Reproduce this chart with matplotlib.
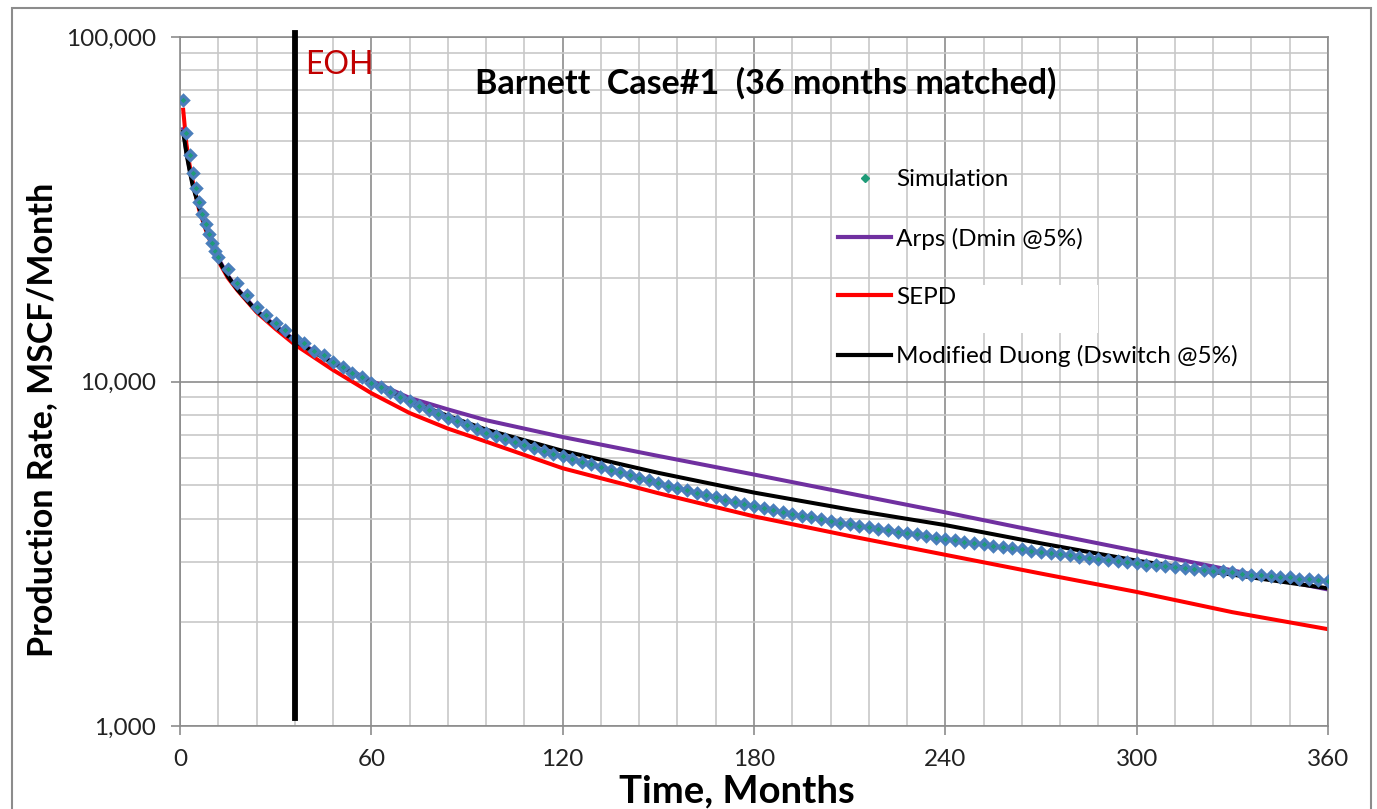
import matplotlib
matplotlib.use('Agg')
import matplotlib.pyplot as plt
from matplotlib.ticker import FixedLocator, LogLocator, FuncFormatter, NullFormatter
from matplotlib.lines import Line2D
from matplotlib.patches import Rectangle

plt.rcParams['font.family'] = ['Lato', 'DejaVu Sans']

# simulated monthly production (MSCF/month): monthly for year 1, then every 3 months
months_sim = list(range(1, 13)) + list(range(15, 361, 3))
rate_sim = [65600, 52600, 45300, 40300, 36400, 33300, 30700, 28600, 26800, 25300, 24000, 23000,
            21200, 19300, 17800, 16500, 15600, 14800, 14100, 13400, 12900, 12300, 11900, 11400,
            11000, 10600, 10300, 9930,
            9620, 9310, 9020, 8750, 8510, 8280, 8050, 7850, 7660, 7460, 7280, 7100, 6950, 6810,
            6670, 6530, 6410, 6300, 6180, 6070,
            5960, 5850, 5750, 5650, 5550, 5450, 5350, 5260, 5160, 5070, 4990, 4910, 4830, 4760,
            4690, 4610, 4540, 4470, 4410, 4340,
            4290, 4240, 4180, 4130, 4080, 4040, 3990, 3940, 3890, 3850, 3810, 3780, 3740, 3700,
            3660, 3630, 3600, 3560, 3520, 3490,
            3460, 3430, 3400, 3370, 3340, 3310, 3280, 3260, 3230, 3200, 3180, 3150, 3130, 3100,
            3080, 3060, 3030, 3010, 2990, 2970,
            2940, 2930, 2910, 2890, 2870, 2860, 2840, 2820, 2810, 2790, 2770, 2750, 2740, 2720,
            2710, 2700, 2680, 2670, 2650, 2640]

# decline-curve fits
months_fit = [1, 2, 3, 4, 6, 8, 10, 12, 15, 18, 24, 30, 36, 48, 60, 72, 84, 96, 120,
              150, 180, 210, 240, 270, 300, 330, 360]
rate_arps = [54000, 46500, 41500, 37500, 32300, 28300, 25200, 22800, 20300, 18600, 16100,
             14500, 13200, 11400, 10050, 8960, 8300, 7720, 6900,
             6080, 5370, 4730, 4170, 3660, 3220, 2830, 2490]
rate_sepd = [61500, 49000, 42500, 38000, 31500, 27700, 24800, 22400, 20000, 18400, 15900,
             14200, 12800, 10800, 9250, 8100, 7300, 6690, 5600,
             4740, 4060, 3560, 3140, 2770, 2450, 2140, 1910]
rate_duong = [53000, 46000, 41000, 37000, 32000, 28000, 25000, 22600, 20200, 18500, 16000,
              14400, 13100, 11300, 9950, 8780, 7950, 7250, 6290,
              5430, 4760, 4250, 3830, 3390, 3020, 2750, 2510]

eoh_month = 36

W, H = 1377, 809
fig = plt.figure(figsize=(W / 100, H / 100), dpi=100)
ax = fig.add_axes([180 / W, 1 - 726 / H, 1148 / W, 689 / H])

ax.set_yscale('log')
ax.set_xlim(0, 360)
ax.set_ylim(1000, 100000)
ax.set_xticks(range(0, 361, 60))
ax.set_xticks(range(0, 361, 12), minor=True)
ax.yaxis.set_major_locator(FixedLocator([1000, 10000, 100000]))
ax.yaxis.set_minor_locator(LogLocator(base=10, subs=range(2, 10)))
ax.yaxis.set_major_formatter(FuncFormatter(lambda v, p: f'{v:,.0f}'))
ax.yaxis.set_minor_formatter(NullFormatter())

ax.set_axisbelow(True)
ax.grid(which='major', color='#8c8c8c', lw=1.2)
ax.grid(which='minor', color='#c8c8c8', lw=1.2)
ax.tick_params(which='major', length=6.5, width=1.2, color='#8c8c8c',
               labelsize=17.5, labelcolor='#222222')
ax.tick_params(axis='y', pad=11)
ax.tick_params(axis='x', pad=10)
ax.tick_params(which='minor', length=0)
for s in ax.spines.values():
    s.set_color('#8c8c8c')
    s.set_linewidth(1.2)

ax.plot(months_fit, rate_arps, color='#7030a0', lw=2.9)
ax.plot(months_fit, rate_sepd, color='#ff0000', lw=2.9)
ax.plot(months_fit, rate_duong, color='black', lw=2.9)
ax.plot(months_sim, rate_sim, ls='none', marker='D', ms=4.8, mfc='#1e9b78',
        mec='#4a7ebb', mew=2.3, zorder=3)

# end of history marker
ax.plot([eoh_month, eoh_month], [1055, 102700], color='black', lw=4.2,
        clip_on=False, zorder=4)

# blank patch beside the SEPD entry
ax.add_patch(Rectangle((0.672, 0.570), 0.128, 0.070, transform=ax.transAxes,
                       facecolor='white', edgecolor='none', zorder=1))

handles = [
    Line2D([], [], ls='none', marker='D', ms=4, color='#1e9b78'),
    Line2D([], [], color='#7030a0', lw=3),
    Line2D([], [], color='#ff0000', lw=3),
    Line2D([], [], color='black', lw=3),
]
labels = ['Simulation', 'Arps (Dmin @5%)', 'SEPD', 'Modified Duong (Dswitch @5%)']
ax.legend(handles, labels, loc='upper left', bbox_to_anchor=(0.573, 0.808),
          frameon=False, fontsize=17.5, labelspacing=1.53, handlelength=2.2,
          handletextpad=0.2, borderpad=0, borderaxespad=0)

fig.text(766 / W, 1 - 83 / H, 'Barnett  Case#1  (36 months matched)',
         ha='center', va='center', fontsize=24.5, fontweight='bold')
fig.text(305 / W, 1 - 65 / H, 'EOH', color='#c00000', fontsize=23,
         ha='left', va='center')
fig.text(737 / W, 1 - 791 / H, 'Time, Months', ha='center', va='center',
         fontsize=27.5, fontweight='bold')
fig.text(42 / W, 1 - 420 / H, 'Production Rate, MSCF/Month', ha='center',
         va='center', rotation=90, fontsize=24.5, fontweight='bold')

# chart border
fig.add_artist(Rectangle((12 / W, -0.01), (1371 - 12) / W, 1 - 8 / H + 0.01,
                         transform=fig.transFigure, fill=False,
                         edgecolor='#8c8c8c', lw=1.5))

fig.savefig('out.png', dpi=100)
